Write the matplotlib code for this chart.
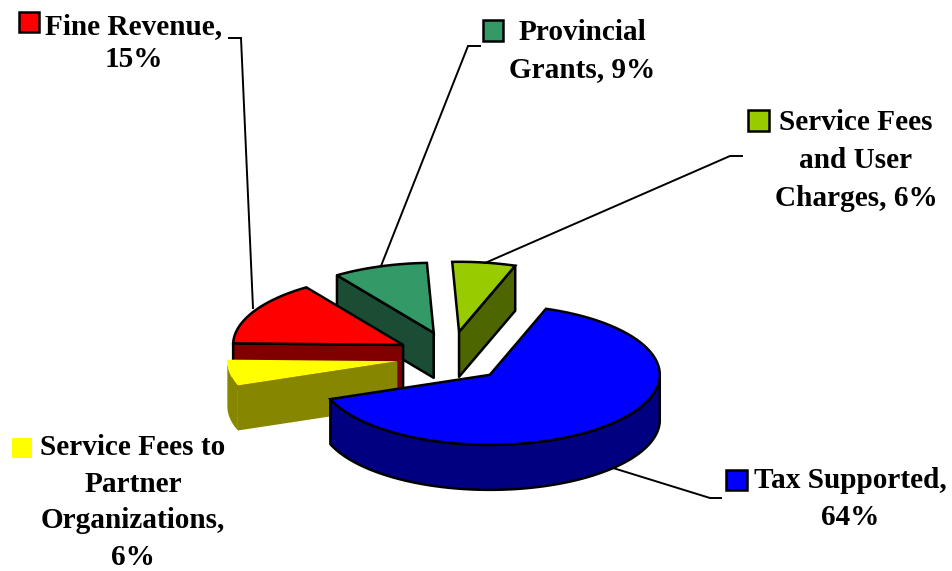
import numpy as np
import matplotlib
matplotlib.use("Agg")
import matplotlib.pyplot as plt
from matplotlib.patches import Polygon, Rectangle

# Data (clockwise from the start angle)
names = ["Tax Supported", "Service Fees to Partner Organizations", "Fine Revenue",
         "Provincial Grants", "Service Fees and User Charges"]
values = [64, 6, 15, 9, 6]
top_colors = ["#0000FF", "#FFFF00", "#FF0000", "#339966", "#99CC00"]
side_colors = ["#000080", "#868600", "#800000", "#1A4D33", "#4D6600"]
has_edge = [True, False, True, True, True]
label_texts = ["Tax Supported,\n64%", "Service Fees to\nPartner\nOrganizations,\n6%",
               "Fine Revenue,\n15%", "Provincial\nGrants, 9%",
               "Service Fees\nand User\nCharges, 6%"]

# Layout / style
start_angle = 70.7
CX, CY, RX, RY, DEPTH = 451.0, 357.0, 170.0, 70.0, 45.0
EX, EY = 0.32, 0.364
draw_order = [3, 4, 2, 1, 0]
label_pos = [(850, 499), (133, 502.5), (134, 43), (582, 51), (856, 160)]
label_spacing = [37, 36.6, 33, 38, 38]
key_pos = [(726.5, 469.5), (12, 437.5), (19, 11.5), (483, 20), (748.5, 110)]
leaders = [
    [(613, 468), (710, 498), (721, 498)],
    None,
    [(253, 308), (241, 38), (229, 38)],
    [(381, 266), (468, 46), (480, 46)],
    [(485, 263), (730, 156), (742, 156)],
]
FONT = "Liberation Serif"
FS = 21.1
LW = 1.8

fig = plt.figure(figsize=(9.53, 5.71), dpi=100)
ax = fig.add_axes([0, 0, 1, 1])
ax.set_xlim(0, 953)
ax.set_ylim(571, 0)
ax.axis("off")

vals = np.array(values, dtype=float)
spans = vals / vals.sum() * 360.0
ends = start_angle - np.cumsum(spans)
starts = ends + spans


def pt(c, a, dy=0.0):
    a = np.radians(a)
    return np.column_stack([c[0] + RX * np.cos(a), c[1] - RY * np.sin(a) + dy])


for i in draw_order:
    a0, a1 = starts[i], ends[i]
    mid = np.radians((a0 + a1) / 2)
    c = (CX + EX * RX * np.cos(mid), CY - EY * RY * np.sin(mid))
    arc = np.linspace(a0, a1, 200)
    ec = "black" if has_edge[i] else "none"
    kw = dict(fc=side_colors[i], ec=ec, lw=LW, joinstyle="round", closed=True)
    # cut faces that turn toward the viewer
    visible = []
    if np.cos(np.radians(a0)) < -0.1:
        visible.append(a0)
    if np.cos(np.radians(a1)) > 0.1:
        visible.append(a1)
    for a in visible:
        p = pt(c, np.array([a]))[0]
        ax.add_patch(Polygon([c, p, (p[0], p[1] + DEPTH), (c[0], c[1] + DEPTH)], **kw))
    # outer wall: only the part turned to the viewer
    s = np.sin(np.radians(arc))
    front = arc[s <= 0]
    if front.size > 1:
        upper = pt(c, front)
        lower = pt(c, front[::-1], DEPTH)
        ax.add_patch(Polygon(np.vstack([upper, lower]), **kw))
    # top face
    ax.add_patch(Polygon(np.vstack([[c], pt(c, arc)]), fc=top_colors[i], ec=ec, lw=LW,
                         joinstyle="miter", closed=True))

for i in range(len(values)):
    if leaders[i]:
        xs, ys = zip(*leaders[i])
        ax.plot(xs, ys, color="black", lw=1.4, solid_joinstyle="miter", zorder=5)
    kx, ky = key_pos[i]
    ax.add_patch(Rectangle((kx, ky), 20.5, 20.5, fc=top_colors[i],
                           ec="black" if has_edge[i] else "none", lw=LW, zorder=6))
    lines = label_texts[i].split("\n")
    x, yc = label_pos[i]
    for j, line in enumerate(lines):
        ax.text(x, yc + (j - (len(lines) - 1) / 2) * label_spacing[i], line, family=FONT,
                weight="bold", size=FS, ha="center", va="center", color="black", zorder=7)

fig.savefig("out.png", dpi=100)
